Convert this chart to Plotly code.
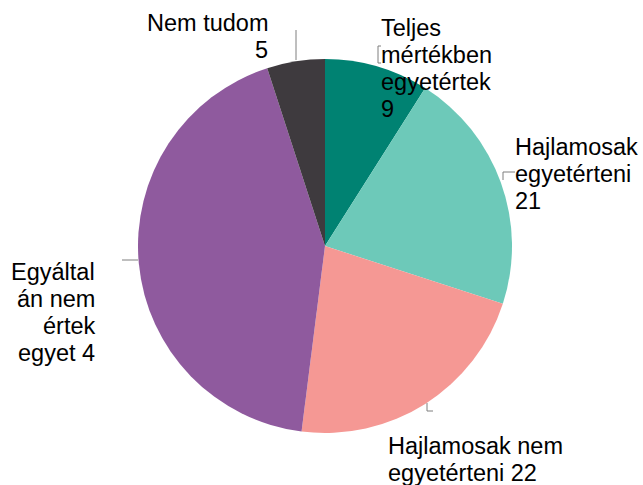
import plotly.graph_objects as go

W, H = 643, 485
categories = ["Teljes mértékben egyetértek", "Hajlamosak egyetérteni",
              "Hajlamosak nem egyetérteni", "Egyáltalán nem értek egyet", "Nem tudom"]
values = [9, 21, 22, 43, 5]
label_lines = [
    ["Teljes", "mértékben", "egyetértek", "9"],
    ["Hajlamosak", "egyetérteni", "21"],
    ["Hajlamosak nem", "egyetérteni 22"],
    ["Egyáltal", "án nem", "értek", "egyet 4"],
    ["Nem tudom", "5"],
]
colors = ["#008272", "#6DC9B9", "#F59894", "#8F5A9E", "#3E3A3E"]

cx, cy, r = 325, 246, 187
FS = 23.5

def px(x):
    return x / W

def py(y):
    return 1 - y / H

fig = go.Figure(go.Pie(
    labels=categories, values=values, sort=False, direction="clockwise",
    rotation=0, textinfo="none", hoverinfo="label+value",
    marker=dict(colors=colors, line=dict(width=0)),
    domain=dict(x=[px(cx - r), px(cx + r)], y=[py(cy + r), py(cy - r)]),
    showlegend=False,
))

# label placement (pixel): anchor x, first baseline, line step, xanchor
placements = [
    (379, 36, 27, "left"),
    (513, 155, 27, "left"),
    (386, 454, 27, "left"),
    (97, 280, 27, "right"),
    (270, 31, 27, "right"),
]
annotations = []
for lines_, (x, b0, step, xa) in zip(label_lines, placements):
    for i, t in enumerate(lines_):
        annotations.append(dict(text=t, x=px(x), y=py(b0 + i * step - 8),
                                xref="paper", yref="paper",
                                xanchor=xa, yanchor="middle", showarrow=False,
                                font=dict(family="Liberation Sans, Arial", size=FS, color="#000000")))

# leader lines (pixel)
lines = [
    [(381, 46), (378, 46), (378, 63), (381, 63)],
    [(503, 180), (503, 172), (515, 172)],
    [(427, 403), (427, 411), (433, 411)],
    [(296, 30), (296, 60)],
    [(122, 260), (138, 260)],
]
shapes = []
for pts in lines:
    path = "M " + " L ".join(f"{px(x)},{py(y)}" for x, y in pts)
    shapes.append(dict(type="path", path=path, xref="paper", yref="paper",
                       line=dict(color="#7F7F7F", width=1)))

fig.update_layout(width=W, height=H, margin=dict(l=0, r=0, t=0, b=0),
                  paper_bgcolor="white", plot_bgcolor="white",
                  annotations=annotations, shapes=shapes)
fig.write_html("out.html", post_script="document.body.style.margin='0';",
               config={"displayModeBar": False})
